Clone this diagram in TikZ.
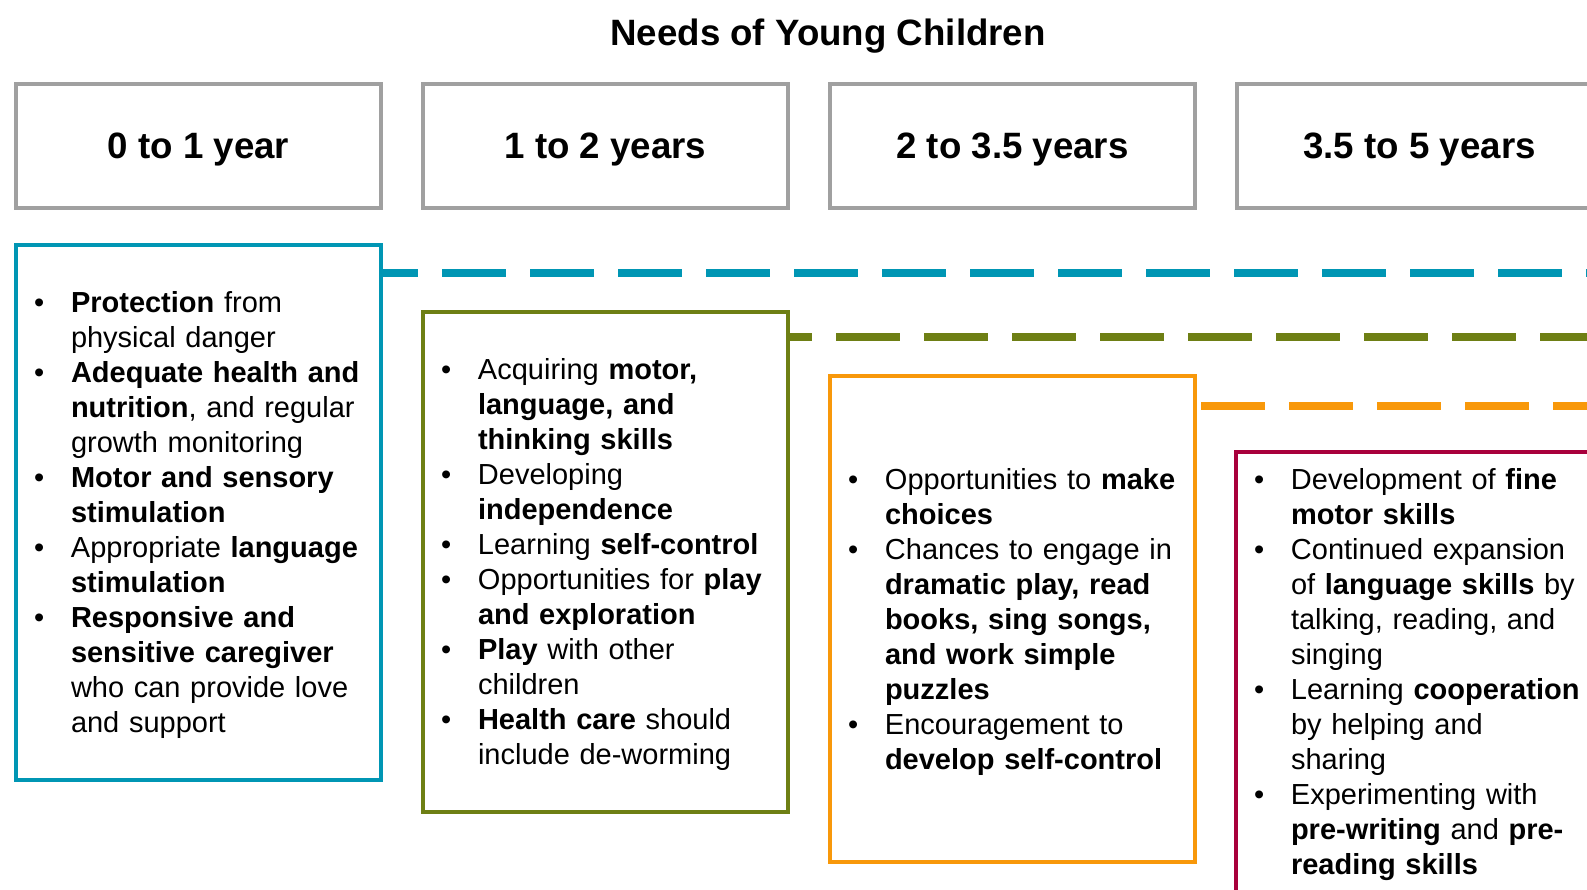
\documentclass[tikz,border=0pt]{standalone}
\usepackage{fontspec}
\setmainfont{Liberation Sans}
\usepackage{tikz}

\newdimen\px \px=0.75pt
\definecolor{ageGray}{HTML}{A0A0A0}
\definecolor{tealC}{HTML}{0096B4}
\definecolor{oliveC}{HTML}{6E7F14}
\definecolor{orangeC}{HTML}{F8980A}
\definecolor{crimsonC}{HTML}{A8003C}
% one bullet point, hanging indent
\newcommand{\itm}[1]{\par\noindent\hangindent=37\px\hangafter=1\makebox[37\px][l]{\textbullet}#1\par}
\newcommand{\nl}{\newline}
\newcommand{\lift}{\par\kern8\px}

\begin{document}
\begin{tikzpicture}[x=0.75pt, y=-0.75pt,
    agebox/.style={draw=ageGray, line width=4\px, minimum width=365\px, minimum height=124\px,
        anchor=north west, text depth=0pt, font=\fontsize{27.5pt}{33pt}\selectfont\bfseries},
    needbox/.style={line width=4\px, anchor=north west, minimum width=365\px, text width=329\px,
        inner xsep=18\px, inner ysep=0pt, align=left, font=\fontsize{21.75pt}{26.25pt}\selectfont},
    dashline/.style={line width=8\px, dash pattern=on 64\px off 24\px}]

    \clip (0,0) rectangle (1587,889);

    % Title
    \node[anchor=base, font=\fontsize{27.5pt}{33pt}\selectfont\bfseries] (title) at (828,45) {Needs of Young Children};

    % Age boxes
    \foreach \lbl [count=\i from 0] in {0 to 1 year, 1 to 2 years, 2 to 3.5 years, 3.5 to 5 years}
        \node[agebox] (age\i) at (14+407*\i,82) {\lbl};

    % Needs boxes
    \node[needbox, draw=tealC, minimum height=535\px] (teal) at (14,243) {
        \itm{\textbf{Protection} from\nl physical danger}
        \itm{\textbf{Adequate health and\nl nutrition}, and regular\nl growth monitoring}
        \itm{\textbf{Motor and sensory\nl stimulation}}
        \itm{Appropriate \textbf{language\nl stimulation}}
        \itm{\textbf{Responsive and\nl sensitive caregiver}\nl who can provide love\nl and support}\lift};
    \node[needbox, draw=oliveC, minimum height=500\px] (olive) at (421,310) {
        \itm{Acquiring \textbf{motor,\nl language, and\nl thinking skills}}
        \itm{Developing\nl \textbf{independence}}
        \itm{Learning \textbf{self-control}}
        \itm{Opportunities for \textbf{play\nl and exploration}}
        \itm{\textbf{Play} with other\nl children}
        \itm{\textbf{Health care} should\nl include de-worming}\lift};
    \node[needbox, draw=orangeC, minimum height=486\px] (orange) at (828,374) {
        \itm{Opportunities to \textbf{make\nl choices}}
        \itm{Chances to engage in\nl \textbf{dramatic play, read\nl books, sing songs,\nl and work simple\nl puzzles}}
        \itm{Encouragement to\nl \textbf{develop self-control}}\lift};
    \node[needbox, draw=crimsonC, minimum height=440\px] (crimson) at (1234,450) {
        \itm{Development of \textbf{fine\nl motor skills}}
        \itm{Continued expansion\nl of \textbf{language skills} by\nl talking, reading, and\nl singing}
        \itm{Learning \textbf{cooperation}\nl by helping and\nl sharing}
        \itm{Experimenting with\nl \textbf{pre-writing} and \textbf{pre-\nl reading skills}}\lift};

    % Dashed time lines
    \coordinate (tealend) at (1600,273);
    \coordinate (oliveend) at (1600,337);
    \coordinate (orangeend) at (1600,406);
    \draw[dashline, tealC, dash phase=29\px] (teal.east |- tealend) -- (tealend);
    \draw[dashline, oliveC, dash phase=42\px] (olive.east |- oliveend) -- (oliveend);
    \draw[dashline, orangeC, dash phase=84\px] (orange.east |- orangeend) -- (orangeend);
\end{tikzpicture}
\end{document}
